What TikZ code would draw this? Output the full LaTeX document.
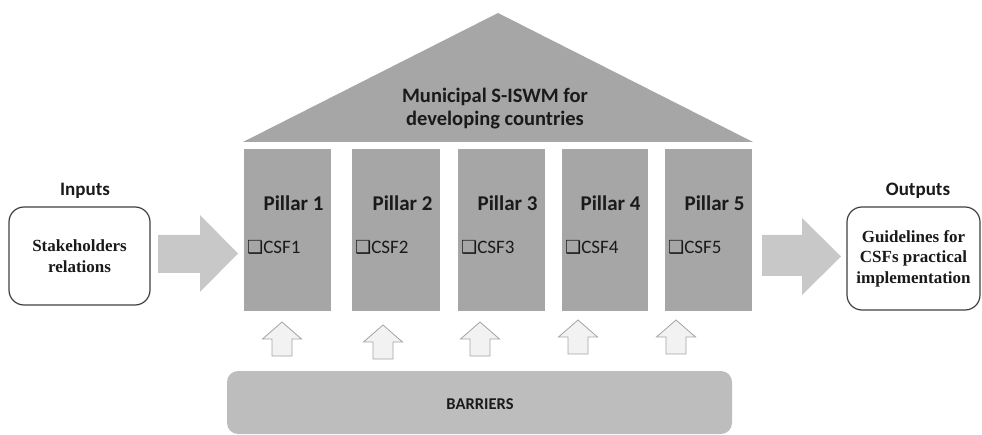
\documentclass[tikz,border=0pt]{standalone}
\usepackage{fontspec}
\setmainfont{Carlito}
\newfontfamily\boxfont{Liberation Serif}
\newfontfamily\symfont{DejaVu Sans}

\definecolor{pillargray}{HTML}{A6A6A6}
\definecolor{barriergray}{HTML}{BDBDBD}
\definecolor{flowgray}{HTML}{C8C8C8}
\definecolor{upfill}{HTML}{F2F2F2}
\definecolor{upline}{HTML}{A3A3A3}
\definecolor{textdark}{HTML}{1A1A1A}

\tikzset{
  iobox/.style={draw=black!75,line width=1.2pt,rounded corners=15pt,fill=white,
    align=center,text=textdark,font=\boxfont\bfseries\fontsize{17}{20.5}\selectfont},
  iolabel/.style={text=textdark,font=\bfseries\fontsize{19}{22}\selectfont},
  pillartitle/.style={anchor=east,text=textdark,font=\bfseries\fontsize{21}{24}\selectfont},
  csftext/.style={anchor=west,inner sep=0pt,text=textdark,font=\fontsize{19}{22}\selectfont},
  uparr/.pic={
    \draw[fill=upfill,draw=upline,line width=0.8pt]
      (-10,34) -- (-10,17) -- (-19.5,17) -- (0,0) -- (19.5,17) -- (10,17) -- (10,34) -- cycle;
  }
}

\begin{document}
\begin{tikzpicture}[x=1pt,y=-1pt]
  \useasboundingbox (0,0) rectangle (982,435);

  % roof
  \fill[pillargray] (243,142) -- (498,13) -- (753,142) -- cycle;
  \node[align=center,text=textdark,font=\bfseries\fontsize{20.5}{23}\selectfont] (roof) at (495,109)
    {Municipal S-ISWM for\\developing countries};

  % pillars
  \foreach \n/\lx/\rx in {1/244/331,2/352/440,3/458/545,4/562/648,5/665/752}{
    \fill[pillargray] (\lx,149) rectangle (\rx,311);
    \node[pillartitle] (pillar\n) at (\rx-4,203) {Pillar \n};
    \node[csftext] (csf\n) at (\lx+3,247) {{\symfont\bfseries\fontsize{18}{20}\selectfont ❑}CSF\n};
  }

  % inputs and outputs
  \node[iolabel] (inlabel) at (85,191) {Inputs};
  \node[iobox,minimum width=141pt,minimum height=98pt] (inbox) at (79.5,256)
    {Stakeholders\\relations};
  \node[iolabel] (outlabel) at (918,191) {Outputs};
  \node[iobox,minimum width=133pt,minimum height=103pt] (outbox) at (913.5,258.5)
    {Guidelines for\\CSFs practical\\implementation};

  % flow arrows
  \fill[flowgray] (158,235) -- (200,235) -- (200,215) -- (238,253.5) -- (200,292)
    -- (200,273) -- (158,273) -- cycle;
  \fill[flowgray] (762,235) -- (802,235) -- (802,218) -- (841,256.5) -- (802,295)
    -- (802,276) -- (762,276) -- cycle;

  % barriers
  \foreach \ax/\ay in {282/322,383/325,480/322,578/320,676/320}
    \pic at (\ax,\ay) {uparr};
  \fill[barriergray,rounded corners=11pt] (227,371) rectangle (732,434);
  \node[text=textdark,font=\bfseries\fontsize{16.5}{20}\selectfont] (barriers) at (480,404) {BARRIERS};
\end{tikzpicture}
\end{document}
